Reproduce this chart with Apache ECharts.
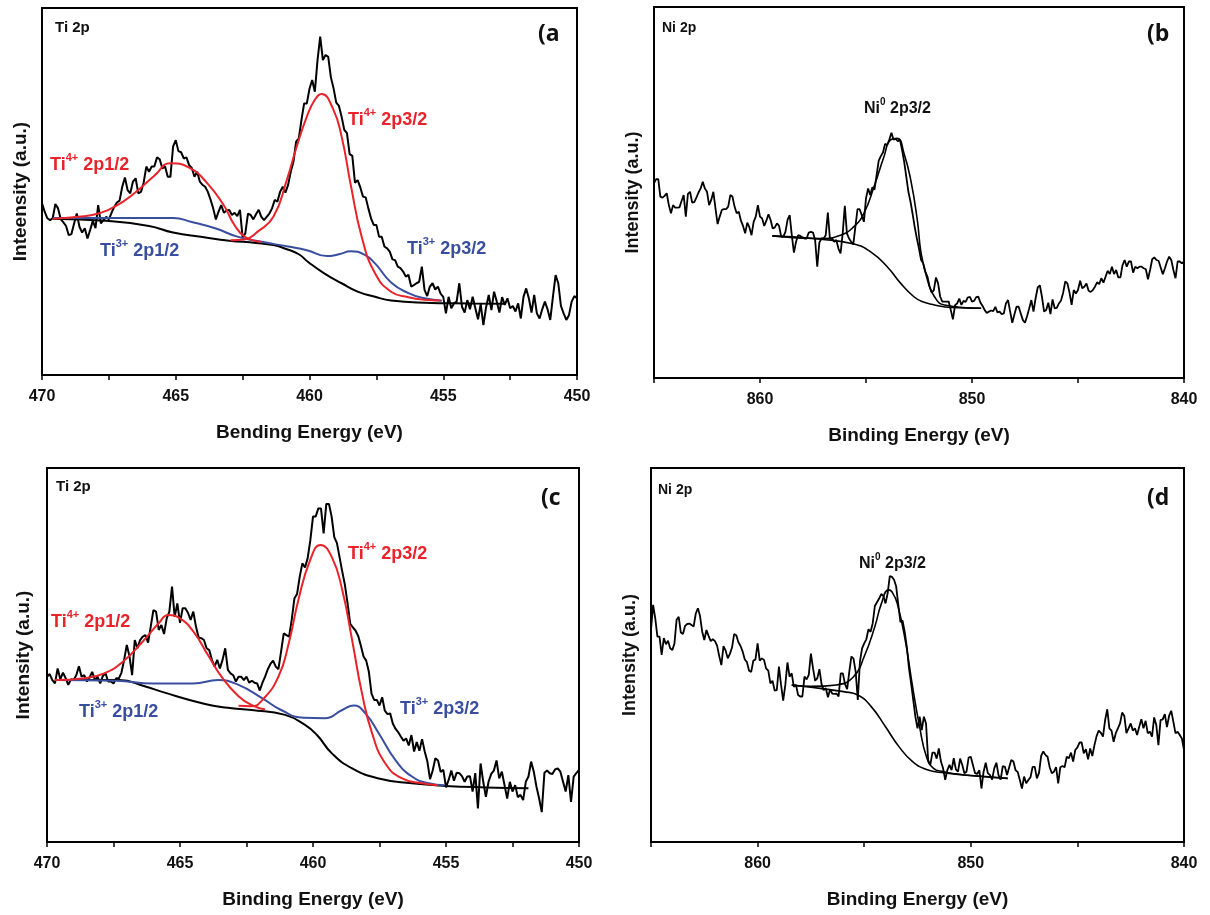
<!DOCTYPE html>
<html>
<head>
<meta charset="utf-8">
<script src="https://cdn.jsdelivr.net/npm/echarts@6/dist/echarts.min.js"></script>
<style>
html, body { margin: 0; padding: 0; background: #fff; }
#chart { width: 1210px; height: 915px; }
</style>
</head>
<body>
<div id="chart"></div>
<script>
// measurement grids (eV), both regions sampled every 0.1 eV
const tiStart = 470, tiStep = 0.1;
const niStart = 865, niStep = 0.1;

// raw Ti 2p spectra (a.u.), 470 -> 450 eV
const tiRawA = [46.8,44.5,42.7,42.2,42.7,46.6,45.4,42.5,41.6,40.6,
  38.1,38.4,41.3,44.0,40.4,38.8,40.0,37.2,39.5,42.0,
  40.0,46.3,41.3,42.2,43.1,42.4,44.2,45.8,47.0,47.5,
  51.3,53.8,50.4,49.5,52.7,53.6,49.5,49.9,52.4,56.8,
  55.4,56.8,56.8,59.3,58.8,56.3,56.8,54.0,54.0,62.2,
  64.0,61.0,60.7,59.0,59.3,57.2,56.4,54.0,55.4,52.7,
  51.8,51.3,49.9,47.8,45.4,42.4,44.5,46.3,44.2,44.8,
  45.0,43.6,44.2,43.3,45.0,37.5,38.6,44.0,43.6,42.4,
  43.8,45.0,43.1,42.2,43.1,44.0,45.4,47.7,47.2,49.9,
  51.3,49.7,51.8,55.4,58.1,63.6,64.5,69.5,74.0,74.0,
  78.0,
  80.4,77.2,85.8,92.2,85.8,87.2,86.7,81.1,78.1,74.2,
  73.3,70.4,66.8,65.9,60.2,59.7,52.4,53.1,51.1,48.6,
  48.4,45.4,42.7,40.9,40.9,37.7,37.7,35.0,34.5,33.6,
  31.5,31.3,29.5,29.1,28.2,26.8,27.3,24.1,24.5,25.0,
  25.4,29.5,23.2,21.5,24.1,25.0,23.3,24.1,22.2,21.3,
  16.8,21.3,18.2,19.5,20.0,25.0,18.6,17.0,20.4,17.9,
  21.3,18.2,15.2,19.3,13.6,18.4,21.8,17.7,22.7,20.0,
  17.0,21.2,19.1,20.9,18.2,18.8,17.3,19.5,15.4,21.3,
  23.6,20.9,17.0,21.8,16.8,15.4,17.9,20.0,17.9,15.0,
  21.3,27.2,25.0,18.8,16.8,15.0,16.3,20.0,21.5,20.9];
const tiRawC = [44.2,44.9,43.3,42.4,46.4,43.5,45.3,43.8,42.0,43.5,
  43.3,44.6,47.0,44.2,44.6,42.9,44.0,45.5,43.3,44.2,
  42.4,44.4,45.1,42.9,42.9,42.4,43.8,43.7,45.3,48.7,
  52.7,49.7,44.6,54.0,51.8,54.0,54.9,55.3,53.3,57.6,
  62.0,61.6,56.7,58.0,55.6,59.8,61.6,68.3,60.2,63.8,
  58.6,62.5,62.5,61.3,59.4,61.6,57.6,54.7,54.5,54.0,
  51.8,51.3,48.7,46.9,48.7,46.4,48.7,51.8,46.0,45.1,
  44.6,42.9,44.2,44.2,43.3,44.2,42.6,43.1,42.6,42.4,
  40.5,42.6,44.2,46.2,47.6,48.5,46.9,46.2,50.9,55.8,
  55.3,54.9,59.4,65.1,66.3,70.9,74.5,73.4,75.9,80.7,
  87.0,
  87.0,89.2,89.2,82.5,90.4,90.4,87.0,81.5,79.9,76.1,
  72.3,68.7,63.8,58.3,57.4,56.5,55.1,52.5,49.6,48.5,
  45.5,39.7,38.0,38.0,36.5,38.7,35.1,34.2,34.4,31.7,
  30.3,29.4,28.2,27.1,27.7,25.8,28.6,24.2,26.7,24.4,
  27.5,24.2,21.5,16.8,19.1,22.4,21.8,18.7,19.3,14.6,
  16.6,19.1,16.4,18.5,18.4,17.6,16.1,17.5,17.6,13.5,
  18.4,9.0,21.0,16.1,12.1,16.1,18.2,19.1,21.8,17.0,
  18.8,15.2,11.6,16.1,13.5,15.2,12.0,12.6,11.2,16.1,
  17.5,21.5,18.8,14.8,11.7,8.0,18.5,19.1,18.4,18.2,
  19.4,19.7,18.8,16.1,13.5,17.9,10.7,17.5,18.4,19.3];

// raw Ni 2p spectra (a.u.), 865 -> 840 eV
const niRawB = [52.5,53.6,53.6,48.9,48.6,49.1,49.8,46.6,44.4,46.6,
  45.9,45.9,46.0,47.7,49.3,43.5,49.6,50.2,47.3,47.4,
  48.6,50.0,51.1,52.9,51.1,50.2,46.6,48.0,50.2,45.7,
  41.5,43.5,45.3,45.5,45.5,46.2,49.3,48.9,46.2,44.4,
  44.8,42.4,41.0,39.0,41.9,40.6,38.5,42.1,43.5,46.6,
  43.5,43.0,41.0,42.4,44.1,42.6,40.3,40.6,41.7,41.0,
  38.1,38.1,39.4,42.6,43.9,38.5,33.8,36.7,38.5,38.3,
  37.9,37.6,37.6,39.2,39.4,39.2,37.2,30.0,36.5,37.6,
  37.6,38.5,44.6,37.4,37.6,36.7,37.2,34.9,33.6,39.0,
  46.4,39.0,37.6,36.7,36.0,40.8,45.5,45.5,43.9,42.1,
  48.4,51.1,49.3,51.4,50.8,54.7,58.6,59.8,60.8,63.1,
  62.8,64.3,66.1,64.2,64.5,63.8,64.3,61.5,58.3,54.3,
  50.2,47.5,44.2,40.6,37.6,34.9,31.8,30.9,28.7,27.3,
  24.6,23.0,23.7,27.1,25.5,21.9,20.6,20.6,20.6,20.6,
  18.3,15.8,19.6,20.1,21.4,19.7,20.8,20.5,21.7,21.9,
  20.6,20.8,21.8,21.9,20.3,19.4,18.3,17.5,17.9,18.2,
  18.0,19.2,17.7,17.9,17.2,17.4,20.1,21.0,17.9,14.9,
  17.1,19.2,19.2,17.4,15.6,14.9,16.7,18.8,21.0,17.9,
  21.5,24.4,25.0,21.9,17.9,18.3,20.3,17.2,21.2,18.8,
  18.9,20.1,20.9,23.0,26.0,25.5,23.0,19.7,23.7,22.8,
  23.7,26.2,24.2,24.6,25.5,23.5,23.2,23.7,24.6,25.8,
  25.3,26.9,25.7,27.3,28.9,28.0,30.0,28.0,29.1,27.1,
  27.1,30.4,31.8,30.0,31.4,31.4,28.4,30.0,29.6,30.0,
  30.0,29.6,29.3,26.6,29.1,32.0,32.5,31.8,31.6,29.8,
  28.0,29.6,31.4,32.7,31.8,29.1,26.9,31.4,31.4,30.9,
  31.4];
const niRawD = [56.7,63.4,59.8,54.9,54.9,50.0,54.5,52.9,53.8,51.8,
  51.3,53.1,59.4,60.2,56.0,55.6,57.8,58.3,58.4,58.0,
  57.6,61.1,62.5,60.4,56.3,54.0,56.7,55.1,53.7,54.2,
  53.7,52.5,49.7,47.3,52.4,51.2,49.1,50.3,52.0,55.6,
  55.3,53.4,52.4,50.9,48.8,48.1,45.8,45.5,48.5,48.8,
  53.1,48.5,49.1,48.7,46.4,45.8,42.4,43.1,40.5,40.6,
  46.9,42.0,37.8,42.0,48.0,44.2,45.1,41.5,42.0,39.3,
  38.9,38.9,44.2,43.5,44.7,50.4,46.4,43.1,43.8,46.2,
  42.2,40.6,41.1,38.7,40.8,39.7,39.6,39.7,38.9,45.1,
  45.1,42.2,40.9,45.5,49.6,49.0,45.5,38.0,48.2,51.8,
  53.1,54.2,56.9,56.2,58.5,63.1,64.1,65.1,66.3,65.8,
  63.8,66.5,71.1,70.9,70.1,68.3,63.4,58.8,59.2,56.2,
  52.2,46.4,42.4,38.0,33.5,30.4,33.5,29.9,33.5,31.7,
  21.9,20.6,23.9,23.9,22.3,25.0,21.5,19.7,16.6,19.2,
  20.6,19.2,22.4,19.4,18.8,22.3,20.6,18.4,18.8,22.6,
  22.8,20.6,18.4,18.2,19.2,14.3,18.8,21.2,18.4,17.9,
  16.7,19.7,21.2,17.9,16.7,20.3,20.1,17.9,20.0,21.9,
  21.5,19.2,18.7,16.6,14.3,17.5,15.7,16.6,17.3,20.1,
  20.1,17.0,18.5,23.0,24.2,23.3,22.8,20.0,18.4,18.8,
  20.0,15.7,20.0,20.3,20.0,22.8,22.4,23.9,21.5,24.6,
  25.3,26.6,26.6,23.7,24.8,22.1,25.0,23.0,25.9,28.3,
  29.8,29.2,28.2,32.6,35.5,30.4,29.8,26.8,29.1,30.4,
  31.7,34.6,33.7,29.1,30.4,31.7,29.8,30.4,28.6,30.8,
  32.8,30.4,32.4,29.1,29.5,28.2,33.3,31.3,25.9,32.6,
  32.8,34.2,30.7,33.7,35.1,32.2,29.1,29.5,28.6,27.7,
  24.6];

// fitted components [eV, a.u.]
const aBackground = [[469.6,42.6],[467.6,42.0],[466,40.6],[465.1,38.8],[464,37.6],[463,36.6],[462,36.0],[461.35,35.4],[460.9,34.4],[460.4,32.9],[460.05,30.8],[459.45,27.7],[458.8,25.0],[458.2,22.7],[457.55,21.3],[456.95,20.3],[455.7,19.7],[454,19.5],[452.7,19.4]];
const aTi3 = [[469.6,42.8],[467.6,42.8],[465.1,42.8],[464.4,41.7],[463.5,39.9],[462.7,37.7],[461.8,36.3],[460.8,35.0],[460.1,34.0],[459.35,32.4],[458.9,32.9],[458.45,33.7],[457.95,32.8],[457.55,30.4],[456.95,25.2],[456.3,22.3],[455.7,20.9],[455.05,20.2]];
const aTi4p12 = [[469.6,42.6],[468.65,43.1],[467.9,44.0],[467.2,46.2],[466.5,49.8],[465.8,54.3],[465.2,57.7],[464.5,56.5],[463.85,52.5],[463.2,46.2],[462.8,40.8],[462.4,37.6],[461.8,36.3]];
const aTi4p32 = [[462.95,36.7],[462.4,37.0],[461.95,39.0],[461.35,43.1],[460.85,53.1],[460.48,62.2],[460.1,70.4],[459.8,75.0],[459.55,76.6],[459.12,72.5],[458.8,65.0],[458.45,51.5],[458.05,37.7],[457.55,27.7],[456.95,22.7],[456.3,21.2],[455.7,20.5],[455.1,20.3]];

const cBackground = [[469.7,43.3],[467.3,43.3],[466.3,41.6],[465.7,40.2],[464.06,36.9],[463.2,35.9],[462.3,35.3],[461.05,34.0],[460.3,31.3],[459.85,28.6],[459.29,23.7],[458.53,19.7],[457.53,17.0],[456.28,15.7],[455.03,15.0],[453.5,14.6],[451.9,14.4]];
const cTi3 = [[469.7,43.3],[467.4,43.1],[466.0,42.4],[464.5,42.4],[463.56,43.3],[462.8,42.0],[461.9,38.4],[461.2,35.3],[460.35,33.2],[459.55,33.1],[458.9,35.3],[458.47,36.5],[458.03,34.4],[457.53,29.1],[456.9,21.9],[456.28,17.5],[455.65,15.7],[455.05,15.2]];
const cTi4p12 = [[469.7,43.3],[468.6,43.8],[467.85,45.1],[467.15,48.2],[466.4,53.6],[465.8,58.5],[465.44,60.7],[465.0,59.8],[464.5,56.3],[463.95,50.0],[463.4,43.8],[462.8,39.0],[462.3,36.6],[461.8,35.4]];
const cTi4p32 = [[462.8,36.4],[462.3,36.3],[461.9,38.0],[461.3,44.2],[460.9,53.5],[460.55,64.7],[460.1,75.5],[459.72,79.4],[459.3,76.3],[458.9,67.4],[458.53,54.0],[458.16,39.8],[457.78,29.1],[457.28,21.0],[456.65,17.0],[455.9,15.7],[455.3,15.2]];

const bBackground = [[859.42,38.3],[857.14,37.4],[855.57,36.1],[854.78,34.0],[854.0,30.0],[853.36,25.5],[852.74,21.9],[852.36,20.6],[851.77,19.7],[850.98,19.0],[849.57,18.8]];
const bNi0 = [[859.42,38.3],[857.14,37.6],[856.2,38.5],[855.57,40.8],[855.1,44.4],[854.62,51.6],[854.15,59.7],[853.84,64.2],[853.52,64.6],[853.21,60.6],[852.89,53.4],[852.58,42.6],[852.4,33.6],[852.1,26.4],[851.77,21.9],[851.3,19.7],[849.57,18.8]];
const dBackground = [[858.4,42.0],[856.97,41.0],[855.97,40.2],[855.3,39.3],[854.67,36.2],[854.0,30.8],[853.37,25.5],[852.73,21.5],[852.08,19.4],[851.27,18.5],[849.65,17.6],[848.27,17.0]];
const dNi0 = [[858.4,42.0],[857.5,41.6],[856.3,42.0],[855.5,44.2],[855.0,49.6],[854.5,57.6],[854.19,63.8],[853.86,67.4],[853.7,66.9],[853.45,63.8],[853.05,53.1],[852.73,41.5],[852.4,30.8],[852.08,22.8],[851.75,19.7],[851.27,18.8],[850.4,18.0],[849.0,17.4],[848.27,17.0]];

const RED = "#e8232a", BLUE = "#3a4ea0", FONT = "Liberation Sans, Arial, sans-serif";

function spectrum(start, step, values) {
  return values.map(function (v, i) { return [+(start - i * step).toFixed(2), v]; });
}

let myChart = echarts.init(document.getElementById("chart"));

function xAx(idx, min, max, interval, every, name) {
  return {
    gridIndex: idx, type: "value", min: min, max: max, interval: interval, inverse: true,
    axisLine: { lineStyle: { color: "#000", width: 2 } },
    axisTick: { show: true, inside: false, length: 5, lineStyle: { color: "#000", width: 1.5 } },
    axisLabel: {
      margin: 14, color: "#111", fontSize: 16, fontWeight: "bold", fontFamily: FONT,
      formatter: function (v) { return v % every === 0 ? String(v) : ""; }
    },
    splitLine: { show: false },
    name: name, nameLocation: "middle", nameGap: 48,
    nameTextStyle: { color: "#111", fontSize: 19, fontWeight: "bold", fontFamily: FONT }
  };
}
function yAx(idx, name, gap, size) {
  return {
    gridIndex: idx, type: "value", min: 0, max: 100,
    axisLine: { show: true, lineStyle: { color: "#000", width: 2 } },
    axisTick: { show: false }, axisLabel: { show: false }, splitLine: { show: false },
    name: name, nameLocation: "middle", nameGap: gap,
    nameTextStyle: { color: "#111", fontSize: size, fontWeight: "bold", fontFamily: FONT }
  };
}
function line(idx, data, color, width, smooth, z) {
  return {
    type: "line", xAxisIndex: idx, yAxisIndex: idx, data: data, showSymbol: false,
    smooth: smooth, z: z, animation: false,
    lineStyle: { color: color, width: width }
  };
}
function label(x, y, main, sup, rest, color, size) {
  return {
    type: "text", x: x, y: y, z: 100,
    style: {
      text: "{m|" + main + "}{s|" + sup + "}{m|" + rest + "}",
      verticalAlign: "middle",
      rich: {
        m: { fill: color, fontSize: size, fontWeight: "bold", fontFamily: FONT, lineHeight: size + 4, verticalAlign: "bottom" },
        s: { fill: color, fontSize: Math.round(size * 0.6), fontWeight: "bold", fontFamily: FONT, lineHeight: size + 4, verticalAlign: "top" }
      }
    }
  };
}
function plain(x, y, text, size, family) {
  return {
    type: "text", x: x, y: y, z: 100,
    style: { text: text, fill: "#111", fontSize: size, fontWeight: "bold", fontFamily: family, verticalAlign: "middle" }
  };
}

let option = {
  backgroundColor: "#fff",
  animation: false,
  grid: [
    { left: 42, top: 8, width: 535, height: 367 },
    { left: 654, top: 7, width: 530, height: 371 },
    { left: 47, top: 468, width: 532, height: 374 },
    { left: 651, top: 468, width: 533, height: 374 }
  ].map(function (g) { return Object.assign({ show: true, borderColor: "#000", borderWidth: 2 }, g); }),
  xAxis: [
    xAx(0, 450, 470, 2.5, 5, "Bending Energy (eV)"),
    xAx(1, 840, 865, 5, 10, "Binding Energy (eV)"),
    xAx(2, 450, 470, 2.5, 5, "Binding Energy (eV)"),
    xAx(3, 840, 865, 5, 10, "Binding Energy (eV)")
  ],
  yAxis: [
    yAx(0, "Inteensity (a.u.)", 12, 19),
    yAx(1, "Intensity (a.u.)", 12, 18),
    yAx(2, "Intensity (a.u.)", 14, 19),
    yAx(3, "Intensity (a.u.)", 12, 18)
  ],
  series: [
    line(0, spectrum(tiStart, tiStep, tiRawA), "#000", 2, false, 2),
    line(0, aBackground, "#000", 2, 0.5, 3),
    line(0, aTi3, BLUE, 2, 0.5, 4),
    line(0, aTi4p12, RED, 2, 0.5, 5),
    line(0, aTi4p32, RED, 2, 0.5, 5),

    line(1, spectrum(niStart, niStep, niRawB), "#000", 1.8, false, 2),
    line(1, bBackground, "#000", 1.6, 0.5, 3),
    line(1, bNi0, "#000", 1.6, 0.5, 3),

    line(2, spectrum(tiStart, tiStep, tiRawC), "#000", 2, false, 2),
    line(2, cBackground, "#000", 2, 0.5, 3),
    line(2, cTi3, BLUE, 2, 0.5, 4),
    line(2, cTi4p12, RED, 2, 0.5, 5),
    line(2, cTi4p32, RED, 2, 0.5, 5),

    line(3, spectrum(niStart, niStep, niRawD), "#000", 1.8, false, 2),
    line(3, dBackground, "#000", 1.6, 0.5, 3),
    line(3, dNi0, "#000", 1.6, 0.5, 3)
  ],
  graphic: [
    plain(55, 28, "Ti 2p", 15, FONT),
    plain(538, 34, "(a", 23, "Open Sans, sans-serif"),
    label(50, 163, "Ti", "4+", " 2p1/2", RED, 18),
    label(348, 118, "Ti", "4+", " 2p3/2", RED, 18),
    label(100, 249, "Ti", "3+", " 2p1/2", BLUE, 18),
    label(407, 247, "Ti", "3+", " 2p3/2", BLUE, 18),

    plain(662, 28, "Ni 2p", 14, FONT),
    plain(1147, 34, "(b", 23, "Open Sans, sans-serif"),
    label(864, 107, "Ni", "0", " 2p3/2", "#111", 16),

    plain(56, 487, "Ti 2p", 15, FONT),
    plain(541, 498, "(c", 23, "Open Sans, sans-serif"),
    label(51, 620, "Ti", "4+", " 2p1/2", RED, 18),
    label(348, 552, "Ti", "4+", " 2p3/2", RED, 18),
    label(79, 710, "Ti", "3+", " 2p1/2", BLUE, 18),
    label(400, 707, "Ti", "3+", " 2p3/2", BLUE, 18),

    plain(658, 490, "Ni 2p", 14, FONT),
    plain(1147, 498, "(d", 23, "Open Sans, sans-serif"),
    label(859, 562, "Ni", "0", " 2p3/2", "#111", 16)
  ]
};

myChart.setOption(option);
window.onresize = function () {
  myChart.resize();
};
</script>
</body>
</html>
